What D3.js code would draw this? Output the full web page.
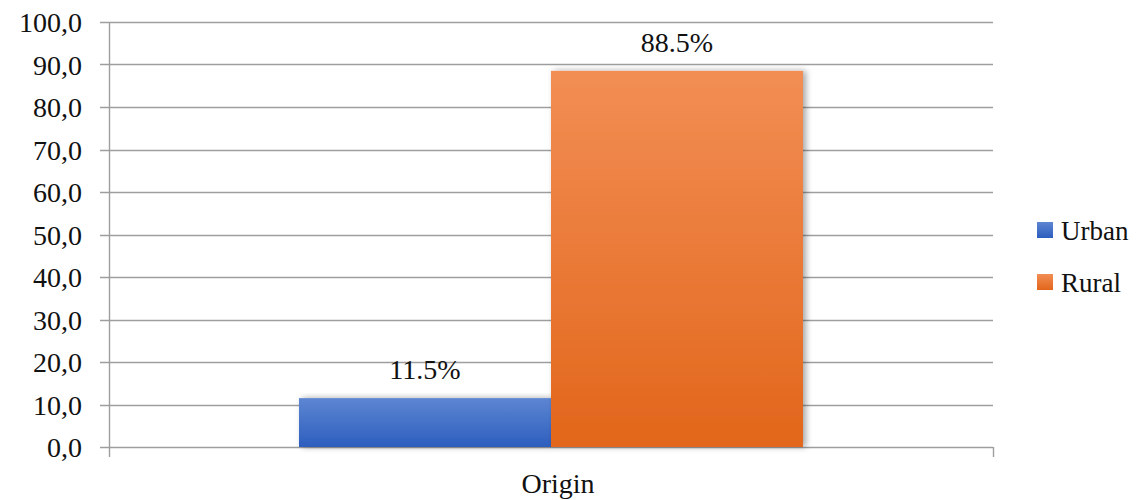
<!DOCTYPE html>
<html>
<head>
<meta charset="utf-8">
<script src="https://cdn.jsdelivr.net/npm/d3@7"></script>
<style>
  body { margin: 0; background: #fff; }
  svg text { font-family: 'Liberation Serif', 'Times New Roman', Times, 'DejaVu Serif', 'Noto Serif', serif; fill: #111; }
</style>
</head>
<body>
<svg id="chart" width="1148" height="500"></svg>
<script>
const categories = ['Origin'];
const seriesNames = ['Urban', 'Rural'];
const values = [11.5, 88.5];
const yTicks = [0, 10, 20, 30, 40, 50, 60, 70, 80, 90, 100];

const svg = d3.select('#chart');
const margin = { left: 109, right: 155, top: 22, bottom: 53 };
const W = 1148, H = 500;

const x0 = d3.scaleBand().domain(categories).range([margin.left, W - margin.right]).paddingInner(0).paddingOuter(0);
const x1 = d3.scaleBand().domain(seriesNames).range([0, x0.bandwidth()]).paddingInner(0).paddingOuter(0.754);
const y = d3.scaleLinear().domain([0, 100]).range([H - margin.bottom, margin.top]);

// gradients
const defs = svg.append('defs');
const grads = [
  { id: 'gUrban', top: '#5d86d2', bot: '#2d5ebe' },
  { id: 'gRural', top: '#f28e54', bot: '#e2661b' }
];
grads.forEach(g => {
  const lg = defs.append('linearGradient').attr('id', g.id).attr('x1', 0).attr('y1', 0).attr('x2', 0).attr('y2', 1);
  lg.append('stop').attr('offset', '0%').attr('stop-color', g.top);
  lg.append('stop').attr('offset', '100%').attr('stop-color', g.bot);
});
const shadow = defs.append('filter').attr('id', 'shadow').attr('x', '-10%').attr('y', '-10%').attr('width', '130%').attr('height', '130%');
shadow.append('feDropShadow').attr('dx', 3).attr('dy', 0).attr('stdDeviation', 3).attr('flood-color', '#000').attr('flood-opacity', 0.35);

// grid lines
svg.append('g').selectAll('line').data(yTicks).join('line')
  .attr('x1', margin.left - 9).attr('x2', W - margin.right)
  .attr('y1', d => Math.round(y(d)) + 0.5).attr('y2', d => Math.round(y(d)) + 0.5)
  .attr('stroke', '#9e9e9e').attr('stroke-width', 1.4);

// y axis line
svg.append('line')
  .attr('x1', margin.left + 0.5).attr('x2', margin.left + 0.5)
  .attr('y1', y(100)).attr('y2', y(0) + 10)
  .attr('stroke', '#9e9e9e').attr('stroke-width', 1.4);
// right end tick of x axis
svg.append('line')
  .attr('x1', W - margin.right + 0.5).attr('x2', W - margin.right + 0.5)
  .attr('y1', y(0)).attr('y2', y(0) + 10)
  .attr('stroke', '#9e9e9e').attr('stroke-width', 1.4);

// y tick labels
svg.append('g').selectAll('text').data(yTicks).join('text')
  .attr('x', 82).attr('y', d => y(d) + 10)
  .attr('text-anchor', 'end').attr('font-size', 28)
  .text(d => d.toFixed(1).replace('.', ','));

// bars
const g = svg.append('g');
const data = seriesNames.map((s, i) => ({ s, v: values[i], c: categories[0] }));
g.selectAll('rect').data(data).join('rect')
  .attr('x', d => x0(d.c) + x1(d.s))
  .attr('y', d => y(d.v))
  .attr('width', x1.bandwidth())
  .attr('height', d => y(0) - y(d.v))
  .attr('fill', (d, i) => `url(#${grads[i].id})`)
  .attr('filter', 'url(#shadow)');

// data labels
g.selectAll('text.lbl').data(data).join('text').attr('class', 'lbl')
  .attr('x', d => x0(d.c) + x1(d.s) + x1.bandwidth() / 2)
  .attr('y', d => y(d.v) - 19)
  .attr('text-anchor', 'middle').attr('font-size', 28)
  .text(d => d.v.toFixed(1) + '%');

// category label
svg.append('text')
  .attr('x', x0(categories[0]) + x0.bandwidth() / 2 + 7).attr('y', 493)
  .attr('text-anchor', 'middle').attr('font-size', 28)
  .text(categories[0]);

// legend
const leg = svg.append('g').attr('transform', 'translate(1037,0)');
seriesNames.forEach((s, i) => {
  const yy = 230 + i * 52;
  leg.append('rect').attr('x', 0).attr('y', yy - 8).attr('width', 16).attr('height', 16)
    .attr('fill', `url(#${grads[i].id})`);
  leg.append('text').attr('x', 24).attr('y', yy + 10).attr('font-size', 27).text(s);
});
</script>
</body>
</html>
